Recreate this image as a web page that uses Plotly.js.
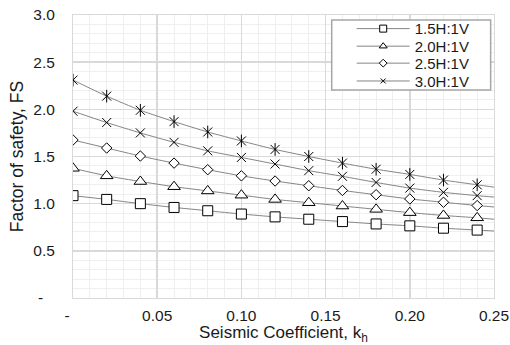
<!DOCTYPE html>
<html>
<head>
<meta charset="utf-8">
<script src="https://cdn.plot.ly/plotly-3.0.1.min.js"></script>
<style>html,body{margin:0;padding:0;background:#fff;}#chart{width:510px;height:345px;}</style>
</head>
<body>
<div id="chart"></div>
<script>
// Seismic coefficient kh at which markers are plotted
var kh = [0, 0.02, 0.04, 0.06, 0.08, 0.10, 0.12, 0.14, 0.16, 0.18, 0.20, 0.22, 0.24];
// Factor of safety for each slope
var fs15 = [1.085, 1.045, 1.0, 0.96, 0.925, 0.89, 0.86, 0.835, 0.81, 0.785, 0.765, 0.74, 0.72];
var fs20 = [1.375, 1.295, 1.235, 1.18, 1.135, 1.09, 1.045, 1.01, 0.975, 0.94, 0.905, 0.875, 0.85];
var fs25 = [1.675, 1.59, 1.505, 1.43, 1.36, 1.295, 1.24, 1.19, 1.14, 1.095, 1.05, 1.015, 0.98];
var fs30 = [1.98, 1.86, 1.75, 1.65, 1.56, 1.49, 1.42, 1.35, 1.29, 1.225, 1.165, 1.12, 1.085];
var fsStar = [2.31, 2.14, 1.99, 1.87, 1.76, 1.665, 1.575, 1.50, 1.43, 1.365, 1.31, 1.25, 1.20];
// trend lines continue to the right edge of the plot
var lineEndK = 0.25;
var lineEnd = [0.71, 0.835, 0.965, 1.07, 1.175];
// legend names
var names = ['1.5H:1V', '2.0H:1V', '2.5H:1V', '3.0H:1V'];
// ticks
var xTickVals = [0, 0.05, 0.10, 0.15, 0.20, 0.25];
var xTickText = ['-\u00a0\u00a0\u2009', '0.05', '0.10', '0.15', '0.20', '0.25'];
var yTickVals = [0, 0.5, 1.0, 1.5, 2.0, 2.5, 3.0];
var yTickText = ['-\u00a0\u00a0\u2009', '0.5', '1.0', '1.5', '2.0', '2.5', '3.0'];

var FONT = 'Arial, "Liberation Sans", sans-serif';
var TXT = '#1a1a1a';
var LINEC = '#858585';

var series = [fs15, fs20, fs25, fs30, fsStar];
var traces = [];
// trend lines
series.forEach(function (s, i) {
  traces.push({
    x: kh.concat([lineEndK]), y: s.concat([lineEnd[i]]),
    mode: 'lines', type: 'scatter', showlegend: false, hoverinfo: 'skip',
    line: {color: LINEC, width: 1, shape: 'spline', smoothing: 0.6}
  });
});
// white-filled markers
var filled = [['square', 10, fs15], ['triangle-up', 11, fs20], ['diamond', 8, fs25]];
filled.forEach(function (f) {
  traces.push({
    x: kh, y: f[2], mode: 'markers', type: 'scatter', showlegend: false,
    marker: {symbol: f[0], size: f[1], color: '#ffffff', line: {color: '#000', width: 1}}
  });
});
// line-type markers
traces.push({x: kh, y: fs30, mode: 'markers', type: 'scatter', showlegend: false,
  marker: {symbol: 'x-thin', size: 9, color: '#000', line: {color: '#000', width: 1}}});
traces.push({x: kh, y: fsStar, mode: 'markers', type: 'scatter', showlegend: false,
  marker: {symbol: 'x-thin', size: 9, color: '#000', line: {color: '#000', width: 1}}});
traces.push({x: kh, y: fsStar, mode: 'markers', type: 'scatter', showlegend: false,
  marker: {symbol: 'line-ns', size: 9, color: '#000', line: {color: '#000', width: 1}}});
// legend entries, one legend per row for exact spacing
var legSym = [['square', 7], ['triangle-up', 7], ['diamond', 6], ['x-thin', 5]];
var legIds = ['legend', 'legend2', 'legend3', 'legend4'];
legSym.forEach(function (l, i) {
  traces.push({
    x: [null], y: [null], name: names[i], mode: 'lines+markers', type: 'scatter',
    legend: legIds[i],
    line: {color: LINEC, width: 1},
    marker: {symbol: l[0], size: l[1], color: i < 3 ? '#fff' : '#000', line: {color: '#000', width: 1}}
  });
});

var legRowY = [0.951, 0.889, 0.829, 0.766];
function legendDef(y) {
  return {
    x: 0.662, y: y, xanchor: 'left', yanchor: 'middle',
    bgcolor: 'rgba(0,0,0,0)', borderwidth: 0,
    font: {family: FONT, size: 15, color: TXT},
    itemwidth: 53
  };
}

var layout = {
  width: 510, height: 345,
  margin: {l: 73, r: 16, t: 15, b: 47},
  paper_bgcolor: '#fff', plot_bgcolor: '#fff',
  font: {family: FONT, size: 14, color: TXT},
  showlegend: true,
  legend: legendDef(legRowY[0]),
  legend2: legendDef(legRowY[1]),
  legend3: legendDef(legRowY[2]),
  legend4: legendDef(legRowY[3]),
  shapes: [{
    type: 'rect', xref: 'paper', yref: 'paper', layer: 'above',
    x0: 0.6145, x1: 0.992, y0: 0.735, y1: 0.982,
    fillcolor: '#ffffff', line: {color: '#a6a6a6', width: 1.5}
  }],
  xaxis: {
    range: [0, 0.25], tickmode: 'array', tickvals: xTickVals, ticktext: xTickText,
    showgrid: true, gridcolor: '#d9d9d9', gridwidth: 1.5,
    minor: {tickmode: 'linear', tick0: 0, dtick: 0.01, showgrid: true, gridcolor: '#efefef', gridwidth: 1},
    showline: true, mirror: true, linecolor: '#d9d9d9', linewidth: 1,
    zeroline: false, ticks: 'outside', ticklen: 3, tickcolor: 'rgba(0,0,0,0)',
    tickfont: {family: FONT, size: 15.5, color: TXT},
    title: {text: 'Seismic Coefficient, k<sub>h</sub>', font: {family: FONT, size: 17, color: TXT}, standoff: 2}
  },
  yaxis: {
    range: [0, 3], tickmode: 'array', tickvals: yTickVals, ticktext: yTickText,
    showgrid: true, gridcolor: '#d9d9d9', gridwidth: 1.5,
    minor: {tickmode: 'linear', tick0: 0, dtick: 0.1, showgrid: true, gridcolor: '#efefef', gridwidth: 1},
    showline: true, mirror: true, linecolor: '#d9d9d9', linewidth: 1,
    zeroline: false, ticks: 'outside', ticklen: 14, tickcolor: 'rgba(0,0,0,0)',
    tickfont: {family: FONT, size: 15.5, color: TXT},
    title: {text: 'Factor of safety, FS', font: {family: FONT, size: 17.5, color: TXT}, standoff: 5}
  }
};
Plotly.newPlot('chart', traces, layout, {staticPlot: true, displayModeBar: false});
</script>
</body>
</html>
